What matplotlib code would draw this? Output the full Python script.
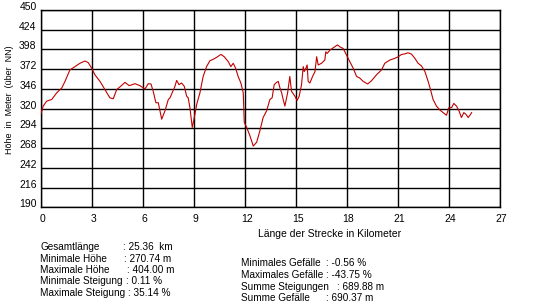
import matplotlib
matplotlib.use("Agg")
import matplotlib.pyplot as plt
import matplotlib.transforms as mtransforms

plt.rcParams['font.family'] = ['Liberation Sans', 'DejaVu Sans']

# distance along route (km) and elevation (m)
km = [0.0, 0.15, 0.35, 0.65, 0.94, 1.24, 1.43, 1.72, 2.02, 2.31, 2.61, 2.8, 3.0, 3.19, 3.49,
      3.78, 4.07, 4.27, 4.47, 4.66, 4.96, 5.21, 5.55, 5.84, 6.14, 6.33, 6.49, 6.62, 6.78, 6.92,
      7.12, 7.31, 7.51, 7.61, 7.9, 8.0, 8.14, 8.29, 8.45, 8.59, 8.68, 8.78, 8.92, 9.02, 9.18,
      9.37, 9.56, 9.76, 9.96, 10.15, 10.35, 10.61, 10.8, 11.04, 11.19, 11.33, 11.47, 11.62, 11.78,
      11.92, 11.98, 12.12, 12.31, 12.51, 12.71, 12.9, 13.09, 13.29, 13.49, 13.62, 13.74, 13.88,
      13.98, 14.08, 14.18, 14.27, 14.37, 14.53, 14.66, 14.76, 14.96, 15.09, 15.21, 15.35, 15.45,
      15.51, 15.61, 15.68, 15.74, 15.84, 16.0, 16.14, 16.24, 16.33, 16.53, 16.72, 16.78, 16.86,
      17.02, 17.21, 17.47, 17.61, 17.8, 18.0, 18.19, 18.39, 18.59, 18.78, 18.98, 19.24, 19.47,
      19.76, 20.06, 20.25, 20.55, 20.84, 21.04, 21.24, 21.38, 21.62, 21.82, 22.02, 22.21, 22.41,
      22.61, 22.8, 22.94, 23.09, 23.29, 23.49, 23.68, 23.88, 24.02, 24.18, 24.31, 24.47, 24.62,
      24.76, 24.9, 25.02, 25.16, 25.3, 25.36]
hoehe = [312.6, 323.4, 329.9, 332.1, 340.8, 347.3, 355.9, 371.1, 375.4, 379.8, 382.8, 380.6, 373.3,
         364.6, 355.9, 345.1, 334.3, 333.0, 345.1, 348.6, 354.6, 350.3, 352.9, 350.3, 346.0, 352.9,
         352.5, 342.9, 327.8, 327.8, 306.1, 316.9, 332.1, 334.3, 349.4, 357.2, 351.6, 353.8, 349.4,
         336.4, 334.3, 321.3, 295.3, 306.1, 325.6, 340.8, 362.4, 375.4, 383.2, 385.0, 387.6, 391.5,
         388.4, 381.9, 375.4, 379.8, 373.3, 362.4, 353.8, 340.8, 301.8, 295.3, 284.4, 270.7, 275.8,
         290.9, 308.3, 316.9, 332.1, 334.3, 351.6, 354.6, 355.9, 347.3, 340.8, 332.1, 323.4, 340.8,
         362.4, 342.9, 336.4, 330.8, 336.4, 351.6, 375.4, 368.9, 373.3, 377.6, 355.9, 353.8, 362.4,
         368.9, 388.4, 377.6, 379.8, 384.1, 394.9, 392.8, 397.1, 400.1, 404.0, 401.4, 399.3, 390.6,
         381.9, 373.3, 362.4, 360.3, 355.9, 352.5, 356.8, 364.6, 371.1, 379.8, 384.1, 386.3, 388.4,
         391.5, 391.9, 393.6, 391.9, 386.3, 379.8, 376.3, 368.9, 355.9, 345.1, 332.1, 323.4, 318.2,
         314.8, 311.3, 321.3, 321.3, 326.9, 323.4, 316.9, 308.3, 314.8, 312.6, 308.3, 312.6, 314.8]

x_ticks = list(range(0, 28, 3))
y_ticks = [190, 216, 242, 268, 294, 320, 346, 372, 398, 424, 450]

stats_left = [("Gesamtlänge", ": 25.36  km"),
              ("Minimale Höhe", ": 270.74 m"),
              ("Maximale Höhe", ": 404.00 m"),
              ("Minimale Steigung", ": 0.11 %"),
              ("Maximale Steigung", ": 35.14 %")]
stats_right = [("Minimales Gefälle", ": -0.56 %"),
               ("Maximales Gefälle", ": -43.75 %"),
               ("Summe Steigungen", ": 689.88 m"),
               ("Summe Gefälle", ": 690.37 m")]

W, H = 549, 308
fig = plt.figure(figsize=(W / 100, H / 100), dpi=100)
fig.patch.set_facecolor("white")
ax = fig.add_axes([40.7 / W, 1 - 207.3 / H, (499.5 - 40.7) / W, (207.3 - 10) / H])

ax.plot(km, hoehe, color="#C00000", lw=0.8, zorder=3)
ax.set_xlim(0, 27)
ax.set_ylim(190, 450)
ax.set_xticks(x_ticks)
ax.set_yticks(y_ticks)
ax.grid(True, color="black", lw=1.0)
for s in ax.spines.values():
    s.set_color("black")
    s.set_linewidth(1.0)
ax.tick_params(length=0, labelsize=7.5, colors="black")
ax.tick_params(axis="y", pad=3)
ax.tick_params(axis="x", pad=5)

dy = mtransforms.ScaledTranslation(0, 4 / 100, fig.dpi_scale_trans)
for lab in ax.get_yticklabels():
    lab.set_transform(lab.get_transform() + dy)
dx = mtransforms.ScaledTranslation(2 / 100, 0, fig.dpi_scale_trans)
for lab in ax.get_xticklabels():
    lab.set_transform(lab.get_transform() + dx)

def px(x, y):
    return x / W, 1 - y / H

fig.text(*px(10, 100), "Höhe  in  Meter  (über  NN)", rotation=90, fontsize=6.5,
         ha="center", va="center")
fig.text(*px(330, 234), "Länge der Strecke in Kilometer", fontsize=7.5,
         ha="center", va="center")

renderer = fig.canvas.get_renderer()
FS = 7.2

def stat_block(items, x0, ys, colon_xs):
    for (lab, val), y, cx in zip(items, ys, colon_xs):
        t = fig.text(*px(x0, y), lab, fontsize=FS, ha="left", va="center")
        ext = t.get_window_extent(renderer=renderer)
        end_px = ext.x1
        cx = max(cx, end_px + 3)
        fig.text(*px(cx, y), val, fontsize=FS, ha="left", va="center")

stat_block(stats_left, 40, [247, 258.5, 270, 281.5, 293], [123, 124, 127, 118, 121])
stat_block(stats_right, 241, [263, 274.5, 286.5, 298], [326.5, 326.5, 337, 326.5])

fig.savefig("out.png", dpi=100)
